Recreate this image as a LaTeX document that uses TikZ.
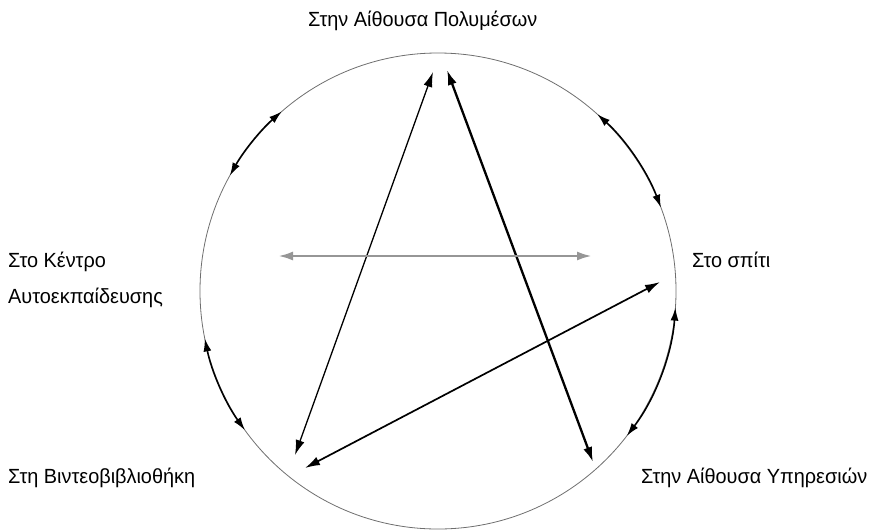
\documentclass[tikz,border=0pt]{standalone}
\usepackage{fontspec}
\setmainfont[FakeStretch=0.97]{Liberation Sans}
\usetikzlibrary{calc,arrows.meta}
\definecolor{ringgrey}{RGB}{110,110,110}
\definecolor{flatgrey}{RGB}{150,150,150}

\begin{document}
\begin{tikzpicture}[x=1pt,y=1pt,
    place/.style={anchor=base west,inner sep=0pt,font=\fontsize{20.5}{36}\selectfont,align=left},
    link/.style={{Latex[length=15pt,width=9pt]}-{Latex[length=15pt,width=9pt]},line width=1.3pt},
    hop/.style={{Latex[length=13pt,width=8pt]}-{Latex[length=13pt,width=8pt]},line width=1.5pt}]
  \useasboundingbox (0,0) rectangle (872,-531);
  \coordinate (c) at (438,-291);
  \draw[ringgrey,line width=0.8pt] (c) circle[radius=238];

  % the five places
  \node[place] (media) at (308,-26) {Στην Αίθουσα Πολυμέσων};
  \node[place] (centre) at (8,-303) {Στο Κέντρο\\Αυτοεκπαίδευσης};
  \node[place] (home) at (692,-267) {Στο σπίτι};
  \node[place] (video) at (8,-483) {Στη Βιντεοβιβλιοθήκη};
  \node[place] (service) at (641,-483) {Στην Αίθουσα Υπηρεσιών};

  % ends of the arrows
  \coordinate (m1) at (433,-72);
  \coordinate (m2) at (447,-70);
  \coordinate (v1) at (295,-455);
  \coordinate (v2) at (305,-468);
  \coordinate (s1) at (593,-462);
  \coordinate (c1) at (278,-256);
  \coordinate (h1) at (592,-256);
  \coordinate (h2) at (660,-282);

  \draw[link] (m1) -- (v1);
  \draw[link,line width=2.3pt] (m2) -- (s1);
  \draw[link,flatgrey,line width=2.6pt] (c1) -- (h1);
  \draw[link,line width=1.7pt] (h2) -- (v2);

  % steps along the ring
  \foreach \a/\b in {131/151, 48/20.5, 191.5/215.8, -4/-37.5}
    {\draw[hop] ($(c)+(\a:238)$) arc[start angle=\a,end angle=\b,radius=238];}
\end{tikzpicture}
\end{document}
